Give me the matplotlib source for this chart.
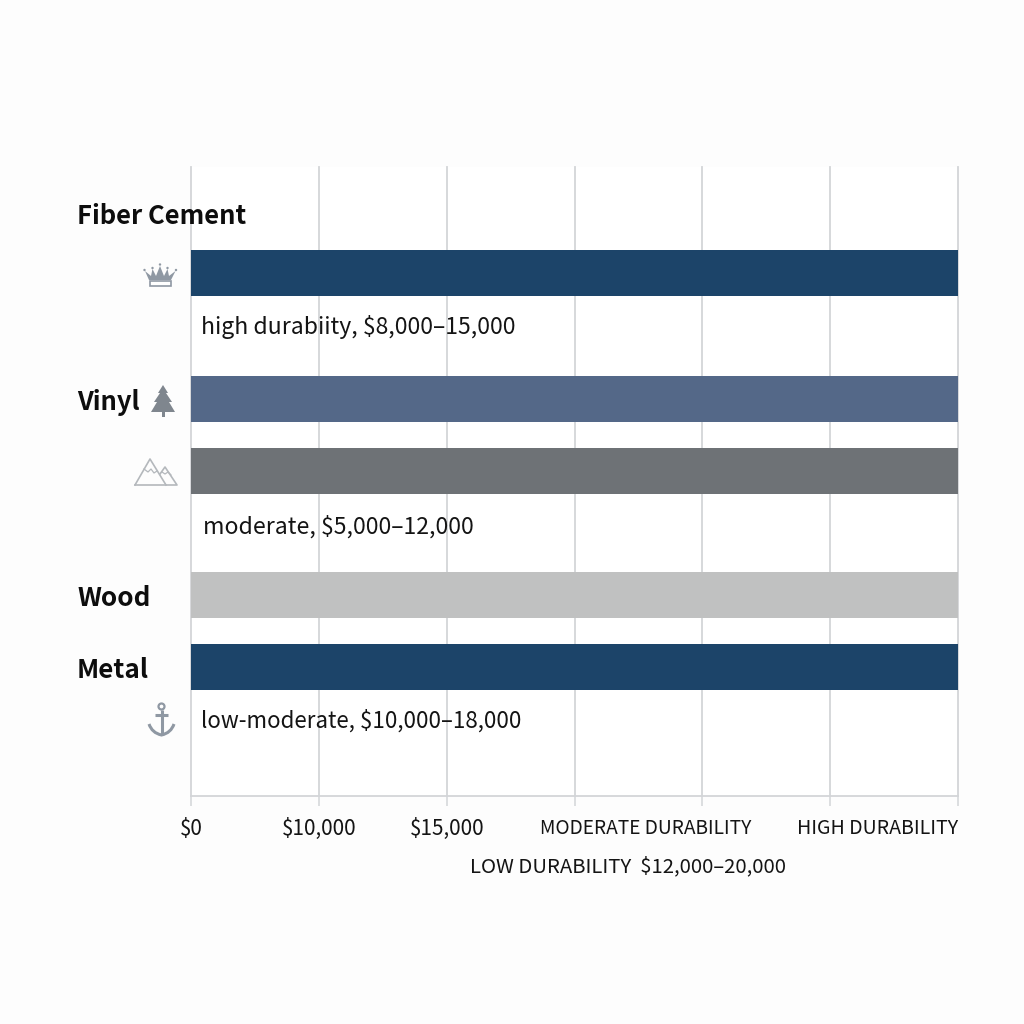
import matplotlib
matplotlib.use("Agg")
import matplotlib.pyplot as plt
from matplotlib.patches import Polygon, Circle, PathPatch, Rectangle
from matplotlib.path import Path

plt.rcParams['font.family'] = ['Noto Sans CJK JP', 'DejaVu Sans']

materials = ["Fiber Cement", "Vinyl", "", "Wood", "Metal"]
bar_values = [6, 6, 6, 6, 6]
bar_colors = ["#1c4469", "#546888", "#6e7276", "#c0c1c1", "#1c4469"]
bar_rows = [273, 399, 471, 595, 667]

x_ticks = [0, 1, 2, 3, 4, 5, 6]
tick_labels = [(191, "$0", "center", 14.9), (319, "$10,000", "center", 14.9), (447, "$15,000", "center", 14.9),
               (646, "MODERATE DURABILITY", "center", 13.8), (958, "HIGH DURABILITY", "right", 14.1)]
notes = [(201, 327, "high durabiity, $8,000\u201315,000", 16.6),
         (203, 527, "moderate, $5,000\u201312,000", 16.6),
         (201, 721, "low-moderate, $10,000\u201318,000", 16.1)]
row_labels = [(77, 216, "Fiber Cement", 18.4), (77, 403, "Vinyl", 18.4), (77, 599, "Wood", 18.8), (77, 671, "Metal", 18.8)]

GRID = "#d3d5d8"
ICON = "#8f98a3"

fig = plt.figure(figsize=(10.24, 10.24), dpi=100, facecolor="#fdfdfd")

# plot area, 191-958 px across, 167-796 px down
ax = fig.add_axes([191 / 1024, 1 - 796 / 1024, 767 / 1024, 629 / 1024])
ax.set_xlim(0, 6)
ax.set_ylim(796, 167)
ax.set_facecolor("white")
ax.barh(bar_rows, bar_values, height=46, color=bar_colors, zorder=3)
ax.set_xticks(x_ticks)
ax.set_xticklabels([])
ax.set_yticks([])
ax.grid(axis="x", color=GRID, linewidth=1.3, zorder=0)
for line in ax.get_xgridlines():
    line.set_clip_on(False)
ax.tick_params(axis="x", length=7, width=1.1, color=GRID)
for side in ["top", "left", "right"]:
    ax.spines[side].set_visible(False)
ax.spines["bottom"].set_color(GRID)
ax.spines["bottom"].set_linewidth(1.3)

# overlay in pixel coordinates for free-placed text and icons
ov = fig.add_axes([0, 0, 1, 1], facecolor="none")
ov.set_xlim(0, 1024)
ov.set_ylim(1024, 0)
ov.axis("off")

for x, y, s, size in row_labels:
    ov.text(x, y, s, fontsize=size, fontweight="bold", color="#0d0d0d", ha="left", va="center")
for x, y, s, size in notes:
    ov.text(x, y, s, fontsize=size, color="#141414", ha="left", va="center")
for x, s, ha, size in tick_labels:
    ov.text(x, 829, s, fontsize=size, color="#141414", ha=ha, va="center")
ov.text(470, 867, "LOW DURABILITY  $12,000\u201320,000", fontsize=14.65, color="#141414", ha="left", va="center")

# crown
ov.add_patch(Polygon([(145, 271), (151, 276), (152.5, 269), (156, 276), (160, 266), (164, 276), (167.5, 269),
                      (169, 276), (175.5, 271), (171, 280), (149, 280)], closed=True, fc=ICON, ec="none"))
ov.add_patch(Rectangle((149.5, 281), 21, 5, fc="white", ec=ICON, lw=1.2))
for cx, cy in [(144.5, 270), (152.5, 268), (160, 264.5), (167.5, 268), (176, 270)]:
    ov.add_patch(Circle((cx, cy), 1.2, fc=ICON, ec="none"))

# tree
ov.add_patch(Polygon([(163, 385), (168, 393), (166, 393), (172, 402), (169, 402), (175, 412), (151, 412),
                      (157, 402), (154, 402), (160, 393), (158, 393)], closed=True, fc="#7f868e", ec="none"))
ov.add_patch(Rectangle((161.5, 411), 3, 6, fc="#7f868e", ec="none"))

# mountains
m = dict(color="#b4b8bc", lw=1.2)
ov.plot([135, 150, 166], [485, 459, 485], **m)
ov.plot([160, 165, 177, 135], [474, 467, 485, 485], **m)
ov.plot([144, 148, 151, 154, 157], [469, 472, 469, 473, 471], color="#b4b8bc", lw=0.9)
ov.plot([162, 165, 168, 171], [472, 474, 472, 475], color="#b4b8bc", lw=0.9)

# anchor
a = dict(color=ICON, lw=2.2, solid_capstyle="butt")
ov.add_patch(Circle((161.5, 706.5), 3, fc="none", ec=ICON, lw=1.6))
ov.plot([161.5, 161.5], [710, 735], **a)
ov.plot([155, 168], [715, 715], **a)
curve = Path([(149, 724), (152, 733), (161.5, 735), (171, 733), (174, 724)],
             [Path.MOVETO, Path.CURVE3, Path.CURVE3, Path.CURVE3, Path.CURVE3])
ov.add_patch(PathPatch(curve, fc="none", ec=ICON, lw=2.2))

fig.savefig("out.png", dpi=100, facecolor=fig.get_facecolor())
